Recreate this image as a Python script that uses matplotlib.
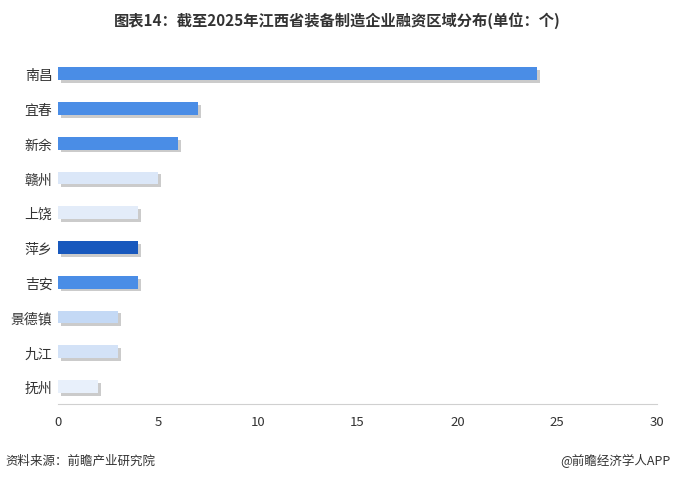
import matplotlib
matplotlib.use("Agg")
import matplotlib.pyplot as plt
import matplotlib.patheffects as pe

plt.rcParams['font.family'] = ['Noto Sans CJK SC', 'DejaVu Sans']

cities = ['南昌', '宜春', '新余', '赣州', '上饶', '萍乡', '吉安', '景德镇', '九江', '抚州']
counts = [24, 7, 6, 5, 4, 4, 4, 3, 3, 2]
colors = ['#4a8de6', '#4a8de6', '#4a8de6', '#dbe7f8', '#e3ecf9', '#1858bd',
          '#4a8de6', '#c4d9f5', '#d3e2f7', '#e8f0fb']
xticks = [0, 5, 10, 15, 20, 25, 30]

fig = plt.figure(figsize=(6.74, 4.81), dpi=100)
ax = fig.add_axes([0.086, 0.158, 0.889, 0.723])
ypos = list(range(len(cities)))[::-1]
bars = ax.barh(ypos, counts, height=0.37, color=colors, zorder=3)
for b in bars:
    b.set_path_effects([pe.SimplePatchShadow(offset=(2, -2), shadow_rgbFace='#999999', alpha=0.5), pe.Normal()])
ax.set_yticks(ypos)
ax.set_yticklabels(cities, fontsize=10, color='#333333')
ax.set_xticks(xticks)
ax.set_xticklabels([str(t) for t in xticks], fontsize=9.5, color='#333333')
ax.set_xlim(0, 30)
ax.set_ylim(-0.5, 9.5)
for s in ['top', 'right', 'left']:
    ax.spines[s].set_visible(False)
ax.spines['bottom'].set_color('#d0d0d0')
ax.tick_params(length=0, pad=8)
ax.tick_params(axis='y', pad=4)

fig.text(0.5, 0.958, '图表14：截至2025年江西省装备制造企业融资区域分布(单位：个)', ha='center', va='center',
         fontsize=11, fontweight='bold', color='#333333')
fig.text(0.008, 0.042, '资料来源：前瞻产业研究院', ha='left', va='center', fontsize=9, color='#333333')
fig.text(0.995, 0.042, '@前瞻经济学人APP', ha='right', va='center', fontsize=9, color='#333333')
fig.savefig('out.png', dpi=100)
